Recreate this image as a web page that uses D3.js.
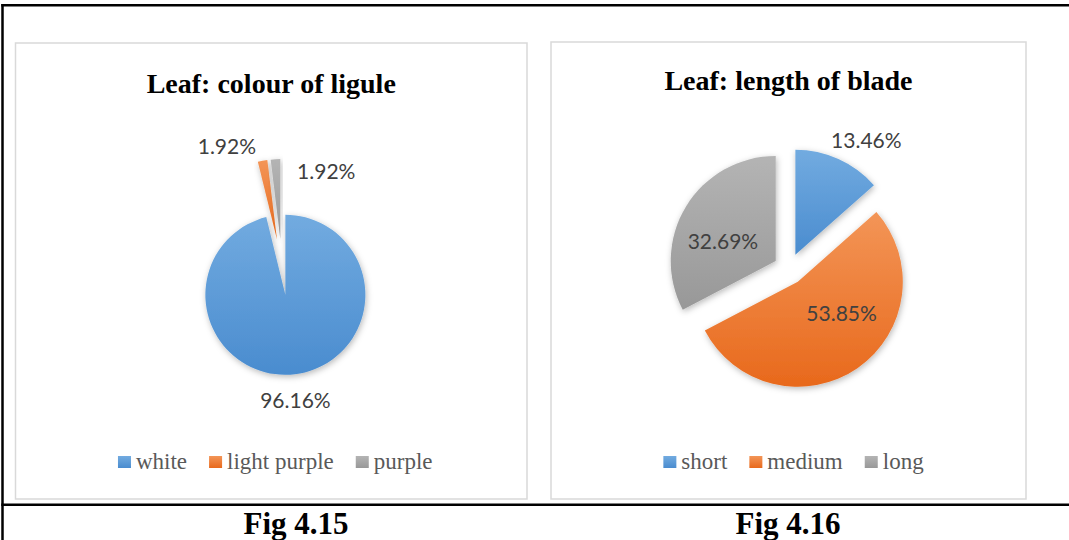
<!DOCTYPE html>
<html>
<head>
    <meta charset="utf-8">
    <title>Leaf ligule colour and blade length</title>
    <style>
        body { margin: 0; background: #fff; overflow: hidden; }
        svg { display: block; }
        .title { font-family: "Times New Roman", "Liberation Serif", serif; font-weight: bold; font-size: 28px; fill: #000; }
        .fig { font-family: "Times New Roman", "Liberation Serif", serif; font-weight: bold; font-size: 31px; fill: #000; }
        .label { font-family: Lato, "Open Sans", sans-serif; font-size: 21px; fill: #404040; }
        .legend { font-family: "Times New Roman", "Liberation Serif", serif; font-size: 23px; fill: #595959; }
    </style>
</head>
<body>
<script src="https://d3js.org/d3.v7.min.js"></script>
<script>
    // data
    var ligCategories = ["white", "light purple", "purple"];
    var ligValues = [96.16, 1.92, 1.92];
    var bladeCategories = ["short", "medium", "long"];
    var bladeValues = [13.46, 53.85, 32.69];
    var figLabels = ["Fig 4.15", "Fig 4.16"];

    var width = 1069, height = 540;
    var colors = [
        { top: "#72abe0", bottom: "#4a8ccf" },
        { top: "#f39557", bottom: "#e8691c" },
        { top: "#b4b4b4", bottom: "#989898" }
    ];

    var svg = d3.select("body").append("svg")
        .attr("width", width)
        .attr("height", height);

    var defs = svg.append("defs");
    colors.forEach(function(c, i) {
        var g = defs.append("linearGradient")
            .attr("id", "grad" + i)
            .attr("x1", 0).attr("y1", 0).attr("x2", 0).attr("y2", 1);
        g.append("stop").attr("offset", "0%").attr("stop-color", c.top);
        g.append("stop").attr("offset", "100%").attr("stop-color", c.bottom);
    });
    var shadow = defs.append("filter").attr("id", "shadow")
        .attr("x", "-20%").attr("y", "-20%").attr("width", "140%").attr("height", "140%");
    shadow.append("feDropShadow")
        .attr("dx", 1).attr("dy", 2).attr("stdDeviation", 3)
        .attr("flood-color", "#000").attr("flood-opacity", 0.28);

    // outer table lines
    svg.append("line").attr("x1", 2.5).attr("x2", 2.5).attr("y1", 4).attr("y2", height)
        .attr("stroke", "#000").attr("stroke-width", 2.5);
    svg.append("line").attr("x1", 1.3).attr("x2", width).attr("y1", 5.3).attr("y2", 5.3)
        .attr("stroke", "#000").attr("stroke-width", 2.5);
    svg.append("line").attr("x1", 1.3).attr("x2", width).attr("y1", 504.7).attr("y2", 504.7)
        .attr("stroke", "#000").attr("stroke-width", 2.5);

    var charts = [
        {
            title: "Leaf: colour of ligule", titleY: 93,
            box: [15.5, 43, 511.5, 456],
            cx: 282, cy: 267, r: 80, explode: 28,
            cats: ligCategories, vals: ligValues,
            // label placement: [angle in degrees, distance as fraction of radius]
            labelPos: [[174.5, 1.31], [331.9, 1.33], [33.9, 1.03]],
            legendShift: 4, fig: figLabels[0], figX: 296
        },
        {
            title: "Leaf: length of blade", titleY: 90,
            box: [551, 42, 475, 457],
            cx: 789, cy: 269, r: 105, explode: 15.5,
            cats: bladeCategories, vals: bladeValues,
            labelPos: [[31.6, 1.29], [125.1, 0.51], [291.3, 0.54]],
            legendShift: 5, fig: figLabels[1], figX: 788
        }
    ];

    var pie = d3.pie().sort(null).value(function(d) { return d; });

    charts.forEach(function(c) {
        var boxCx = c.box[0] + c.box[2] / 2;

        svg.append("rect")
            .attr("x", c.box[0]).attr("y", c.box[1])
            .attr("width", c.box[2]).attr("height", c.box[3])
            .attr("fill", "#fff").attr("stroke", "#d9d9d9").attr("stroke-width", 1.5);

        svg.append("text").attr("class", "title")
            .attr("x", boxCx).attr("y", c.titleY)
            .attr("text-anchor", "middle")
            .text(c.title);

        var arc = d3.arc().innerRadius(0).outerRadius(c.r);
        var arcs = pie(c.vals);

        var g = svg.append("g").attr("transform", "translate(" + c.cx + "," + c.cy + ")");

        var slices = g.selectAll("g.slice").data(arcs).enter().append("g")
            .attr("class", "slice")
            .attr("transform", function(d) {
                var mid = (d.startAngle + d.endAngle) / 2;
                return "translate(" + (Math.sin(mid) * c.explode) + "," + (-Math.cos(mid) * c.explode) + ")";
            });

        slices.append("path")
            .attr("d", arc)
            .attr("fill", function(d, i) { return "url(#grad" + i + ")"; })
            .attr("filter", "url(#shadow)");

        slices.append("text").attr("class", "label")
            .attr("x", function(d, i) {
                var a = c.labelPos[i][0] * Math.PI / 180;
                return Math.sin(a) * c.r * c.labelPos[i][1];
            })
            .attr("y", function(d, i) {
                var a = c.labelPos[i][0] * Math.PI / 180;
                return -Math.cos(a) * c.r * c.labelPos[i][1];
            })
            .attr("text-anchor", "middle")
            .attr("dominant-baseline", "central")
            .text(function(d) { return d.data.toFixed(2) + "%"; });

        // legend
        var lg = svg.append("g");
        var items = lg.selectAll("g").data(c.cats).enter().append("g");
        items.append("rect")
            .attr("width", 13).attr("height", 12)
            .attr("y", 456)
            .attr("fill", function(d, i) { return "url(#grad" + i + ")"; });
        items.append("text").attr("class", "legend")
            .attr("x", 18).attr("y", 469)
            .text(function(d) { return d; });
        var xpos = 0;
        items.each(function() {
            var w = 18 + d3.select(this).select("text").node().getComputedTextLength();
            d3.select(this).attr("transform", "translate(" + xpos + ",0)");
            xpos += w + 22;
        });
        var total = xpos - 22;
        lg.attr("transform", "translate(" + (boxCx + c.legendShift - total / 2) + ",0)");

        svg.append("text").attr("class", "fig")
            .attr("x", c.figX).attr("y", 534)
            .attr("text-anchor", "middle")
            .text(c.fig);
    });
</script>
</body>
</html>
